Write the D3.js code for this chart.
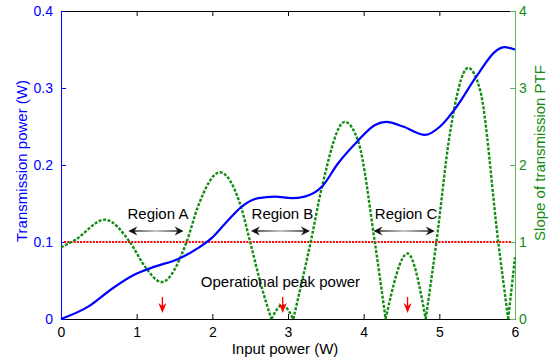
<!DOCTYPE html>
<html>
<head>
<meta charset="utf-8">
<script src="https://cdn.jsdelivr.net/npm/d3@7"></script>
<style>
  body { margin: 0; background: #fff; }
  svg { font-family: "Liberation Sans", Arial, sans-serif; }
</style>
</head>
<body>
<svg id="chart" width="555" height="363"></svg>
<script>
// transmitted power vs input power (left axis, W)
var transmission = [
  [0, 0], [0.36, 0.016], [0.67, 0.039], [0.98, 0.058], [1.24, 0.068],
  [1.55, 0.078], [1.81, 0.092], [1.99, 0.105], [2.17, 0.124], [2.39, 0.146],
  [2.61, 0.157], [2.83, 0.159], [3.05, 0.157], [3.22, 0.159], [3.45, 0.172],
  [3.66, 0.202], [3.91, 0.23], [4.15, 0.252], [4.3, 0.256], [4.52, 0.25],
  [4.81, 0.239], [5.01, 0.25], [5.23, 0.276], [5.49, 0.315], [5.76, 0.349],
  [5.86, 0.353], [6, 0.35]
];

// slope of the transfer function (right axis)
var slope = [
  [0, 0.93], [0.19, 1.03], [0.58, 1.29], [0.91, 1.0], [1.11, 0.68],
  [1.33, 0.48], [1.66, 1.0], [1.81, 1.46], [2.1, 1.905], [2.39, 1.42],
  [2.5, 1.0], [2.65, 0.42], [2.78, 0], [2.925, 0.18], [3.07, 0],
  [3.3, 1.0], [3.45, 1.72], [3.75, 2.56], [3.93, 2.3], [4.15, 0.98],
  [4.29, 0], [4.58, 0.85], [4.82, 0], [4.96, 0.99], [5.14, 2.41],
  [5.38, 3.26], [5.54, 2.97], [5.78, 0.99], [5.91, 0], [6, 0.8]
];

var xTicks = [0, 1, 2, 3, 4, 5, 6];
var leftTicks = [0, 0.1, 0.2, 0.3, 0.4];
var rightTicks = [0, 1, 2, 3, 4];

var slopeLevel = 1;            // red dotted reference line
var levelRange = [0.04, 5.96];

var regions = [
  { name: "Region A", from: 0.89, to: 1.62 },
  { name: "Region B", from: 2.51, to: 3.29 },
  { name: "Region C", from: 4.13, to: 4.94 }
];
var peakPowers = [1.34, 2.93, 4.58];

var blue = "#0000ff";
var green = "#128c12";
var greenLight = "#5cb85c";
var red = "#ff0000";

var margin = { top: 11, right: 40, bottom: 44, left: 61 };
var width = 454, height = 308;

var svg = d3.select("#chart");
var g = svg.append("g")
  .attr("transform", "translate(" + margin.left + "," + margin.top + ")");

var xScale = d3.scaleLinear().domain([0, 6]).range([0, width]);
var yLeft = d3.scaleLinear().domain([0, 0.4]).range([height, 0]);
var yRight = d3.scaleLinear().domain([0, 4]).range([height, 0]);

// defs: gradient for region arrows
var defs = svg.append("defs");
var grad = defs.append("linearGradient").attr("id", "arrGrad")
  .attr("x1", "0%").attr("x2", "100%");
grad.append("stop").attr("offset", "0%").attr("stop-color", "#222");
grad.append("stop").attr("offset", "50%").attr("stop-color", "#b0b0b0");
grad.append("stop").attr("offset", "100%").attr("stop-color", "#222");

/*
Axes
*/
var xAxis = d3.axisBottom(xScale).tickValues(xTicks).tickSize(-5).tickPadding(8)
  .tickFormat(d3.format("d"));
var gX = g.append("g").attr("transform", "translate(0," + height + ")").call(xAxis);
gX.selectAll("text").attr("fill", "#000").attr("font-size", 14);

var topAxis = d3.axisTop(xScale).tickValues(xTicks).tickSize(-5).tickFormat("");
g.append("g").call(topAxis);

var leftAxis = d3.axisLeft(yLeft).tickValues(leftTicks).tickSize(-5).tickPadding(8)
  .tickFormat(String);
var gL = g.append("g").call(leftAxis);
gL.select(".domain").attr("stroke", blue);
gL.selectAll(".tick line").attr("stroke", blue);
gL.selectAll("text").attr("fill", blue).attr("font-size", 14);

var rightAxis = d3.axisRight(yRight).tickValues(rightTicks).tickSize(-5).tickPadding(4)
  .tickFormat(String);
var gR = g.append("g").attr("transform", "translate(" + width + ",0)").call(rightAxis);
gR.select(".domain").attr("stroke", greenLight);
gR.selectAll(".tick line").attr("stroke", greenLight);
gR.selectAll("text").attr("fill", green).attr("font-size", 14);

// axis titles
g.append("text")
  .attr("x", width / 2 - 3).attr("y", height + 35)
  .attr("text-anchor", "middle").attr("font-size", 15)
  .text("Input power (W)");

g.append("text")
  .attr("transform", "translate(" + (-34) + "," + (height / 2 - 4) + ") rotate(-90)")
  .attr("text-anchor", "middle").attr("font-size", 15).attr("fill", blue)
  .text("Transmission power (W)");

g.append("text")
  .attr("transform", "translate(" + (width + 30) + "," + (height / 2 - 12) + ") rotate(-90)")
  .attr("text-anchor", "middle").attr("font-size", 15).attr("fill", green)
  .text("Slope of transmission PTF");

/*
Reference level
*/
g.append("line")
  .attr("x1", xScale(levelRange[0])).attr("x2", xScale(levelRange[1]))
  .attr("y1", yRight(slopeLevel)).attr("y2", yRight(slopeLevel))
  .attr("stroke", red).attr("stroke-width", 2)
  .attr("stroke-dasharray", "2,1.2");

/*
Slope curve: split at zeros so the |.| cusps stay sharp
*/
var segments = [];
var cur = [];
slope.forEach(function (p, i) {
  cur.push(p);
  if (p[1] === 0 && i > 0 && i < slope.length - 1) {
    segments.push(cur);
    cur = [p];
  }
});
segments.push(cur);

var slopeLine = d3.line()
  .x(function (d) { return xScale(d[0]); })
  .y(function (d) { return yRight(d[1]); })
  .curve(d3.curveMonotoneX);

g.append("path")
  .attr("d", segments.map(function (s) { return slopeLine(s); }).join(""))
  .attr("fill", "none").attr("stroke", green).attr("stroke-width", 2.4)
  .attr("stroke-dasharray", "3,1.6");

/*
Transmission curve
*/
var transLine = d3.line()
  .x(function (d) { return xScale(d[0]); })
  .y(function (d) { return yLeft(d[1]); })
  .curve(d3.curveMonotoneX);

g.append("path")
  .datum(transmission)
  .attr("d", transLine)
  .attr("fill", "none").attr("stroke", blue).attr("stroke-width", 2.2);

/*
Region arrows and labels
*/
function headPath(x, y, dir) {
  // matlab style arrow head, tip at (x,y), pointing dir (+1 right, -1 left)
  var L = 9, W = 4.5, notch = 3;
  return "M" + x + "," + y +
    "L" + (x - dir * L) + "," + (y - W) +
    "L" + (x - dir * (L - notch)) + "," + y +
    "L" + (x - dir * L) + "," + (y + W) + "Z";
}

var arrowY = height - 88;
var rg = g.append("g").selectAll("g").data(regions).enter().append("g");
rg.append("line")
  .attr("x1", function (d) { return xScale(d.from) + 4; })
  .attr("x2", function (d) { return xScale(d.to) - 4; })
  .attr("y1", arrowY).attr("y2", arrowY + 0.01)
  .attr("stroke", "url(#arrGrad)").attr("stroke-width", 1.6);
rg.append("path")
  .attr("d", function (d) { return headPath(xScale(d.from), arrowY, -1); })
  .attr("fill", "#111");
rg.append("path")
  .attr("d", function (d) { return headPath(xScale(d.to), arrowY, 1); })
  .attr("fill", "#111");
rg.append("text")
  .attr("x", function (d) { return (xScale(d.from) + xScale(d.to)) / 2 + 2; })
  .attr("y", arrowY - 12)
  .attr("text-anchor", "middle").attr("font-size", 15)
  .text(function (d) { return d.name; });

g.append("text")
  .attr("x", xScale(2.9)).attr("y", height - 32)
  .attr("text-anchor", "middle").attr("font-size", 15)
  .text("Operational peak power");

/*
Red markers at the operational peak powers
*/
var mk = g.append("g").selectAll("g").data(peakPowers).enter().append("g")
  .attr("transform", function (d) { return "translate(" + xScale(d) + "," + (height - 6) + ")"; });
mk.append("line")
  .attr("x1", 0).attr("x2", 0).attr("y1", -16).attr("y2", -6)
  .attr("stroke", red).attr("stroke-width", 1.3);
mk.append("path")
  .attr("d", "M0,0L-4,-10L0,-7L4,-10Z")
  .attr("fill", red);
</script>
</body>
</html>
